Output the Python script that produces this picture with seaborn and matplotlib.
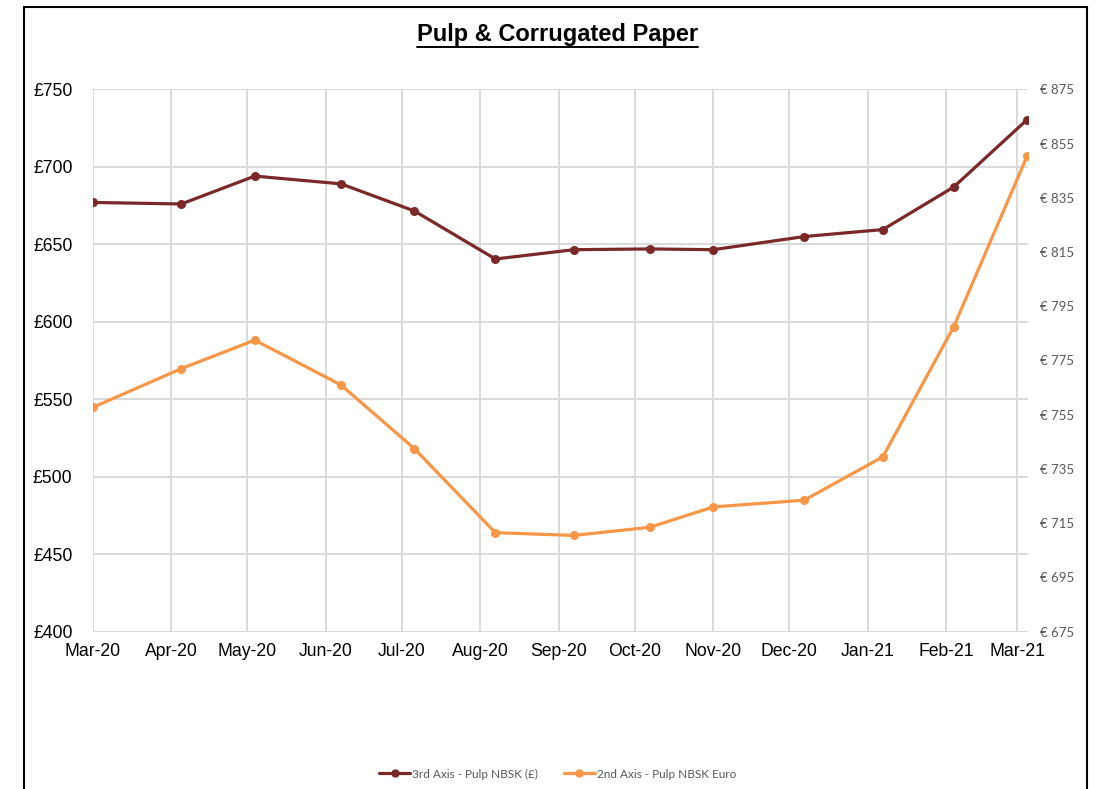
import pandas as pd
import matplotlib
matplotlib.use("Agg")
import matplotlib.pyplot as plt
import matplotlib.dates as mdates
import matplotlib.ticker as mticker
from matplotlib.lines import Line2D
from matplotlib.patches import Rectangle
import seaborn as sns

# datos
fechas = ["2020-03-01", "2020-04-05", "2020-05-04", "2020-06-07", "2020-07-06",
          "2020-08-07", "2020-09-07", "2020-10-07", "2020-11-01", "2020-12-07",
          "2021-01-07", "2021-02-04", "2021-03-05"]
pulp_gbp = [677, 676, 694, 689, 671.5, 640.5, 646.5, 647, 646.5, 655, 659.5, 687, 730.5]
pulp_eur = [757.7, 772, 782.5, 766, 742.5, 711.5, 710.5, 713.5, 721, 723.5, 739.5, 787.5, 850.5]
ticks_gbp = [400, 450, 500, 550, 600, 650, 700, 750]
ticks_eur = [675, 695, 715, 735, 755, 775, 795, 815, 835, 855, 875]
etiqueta_gbp = "3rd Axis - Pulp NBSK (£)"
etiqueta_eur = "2nd Axis - Pulp NBSK Euro"
titulo = "Pulp & Corrugated Paper"

ROJO = "#7A2828"
NARANJA = "#F79646"

df = pd.DataFrame({"fecha": pd.to_datetime(fechas), "gbp": pulp_gbp, "eur": pulp_eur})

sns.set_theme(style="whitegrid")
plt.rcParams["font.family"] = ["Liberation Sans", "DejaVu Sans"]

fig = plt.figure(figsize=(10.97, 7.89), dpi=100)
ax = fig.add_axes([0.0845, 0.1994, 0.937 - 0.0845, 0.8868 - 0.1994])
ax2 = ax.twinx()

sns.lineplot(data=df, x="fecha", y="gbp", ax=ax, color=ROJO, linewidth=2.3,
             marker="o", markersize=6.5, markeredgewidth=0, legend=False)
sns.lineplot(data=df, x="fecha", y="eur", ax=ax2, color=NARANJA, linewidth=2.3,
             marker="o", markersize=6.5, markeredgewidth=0, legend=False)

# ejes
ax.set_xlim(pd.Timestamp("2020-03-01"), pd.Timestamp("2021-03-05 06:00"))
ax.set_ylim(ticks_gbp[0], ticks_gbp[-1])
ax.yaxis.set_major_locator(mticker.FixedLocator(ticks_gbp))
ax.yaxis.set_major_formatter(mticker.FuncFormatter(lambda v, p: f"£{v:.0f}"))
ax.xaxis.set_major_locator(mdates.MonthLocator())
ax.xaxis.set_major_formatter(mdates.DateFormatter("%b-%y"))
ax.set_xlabel("")
ax.set_ylabel("")
ax.tick_params(axis="both", labelsize=12.7, colors="black", length=0)
ax.tick_params(axis="y", pad=14.5)
ax.tick_params(axis="x", pad=8)
ax.grid(True, color="#D9D9D9", linewidth=1.4)

ax2.set_ylim(ticks_eur[0], ticks_eur[-1])
ax2.yaxis.set_major_locator(mticker.FixedLocator(ticks_eur))
ax2.yaxis.set_major_formatter(mticker.FuncFormatter(lambda v, p: f"€ {v:.0f}"))
ax2.set_ylabel("")
ax2.grid(False)
ax2.tick_params(axis="y", length=0, pad=8.6, labelsize=9.5, colors="#595959")
for lbl in ax2.get_yticklabels():
    lbl.set_family(["Lato", "DejaVu Sans"])

for a in (ax, ax2):
    for s in a.spines.values():
        s.set_visible(False)

# titulo subrayado
t = fig.text(0.508, 1 - 34 / 789, titulo, ha="center", va="center",
             fontsize=17, fontweight="bold", color="black",
             family=["Liberation Sans Narrow", "Liberation Sans", "DejaVu Sans"])
fig.canvas.draw()
bb = t.get_window_extent(renderer=fig.canvas.get_renderer())
W, H = fig.bbox.width, fig.bbox.height
fig.add_artist(Line2D([bb.x0 / W, bb.x1 / W], [(bb.y0 - 1) / H] * 2,
                      color="black", linewidth=1.4, transform=fig.transFigure))

# leyenda
handles = [Line2D([], [], color=ROJO, linewidth=2.3, marker="o", markersize=5),
           Line2D([], [], color=NARANJA, linewidth=2.3, marker="o", markersize=5)]
leg = fig.legend(handles, [etiqueta_gbp, etiqueta_eur], loc="center",
                 bbox_to_anchor=(0.508, 1 - 774 / 789), ncol=2, frameon=False,
                 fontsize=8.5, handlelength=2.7, handletextpad=0.1,
                 columnspacing=2.2, labelcolor="#595959")
for txt in leg.get_texts():
    txt.set_family(["Lato", "DejaVu Sans"])

# marco exterior
fig.add_artist(Rectangle((24 / 1097, -0.02), (1087 - 24) / 1097, 1.02 - 7.5 / 789,
                         transform=fig.transFigure, fill=False,
                         edgecolor="black", linewidth=1.5))

fig.savefig("out.png", dpi=100)
